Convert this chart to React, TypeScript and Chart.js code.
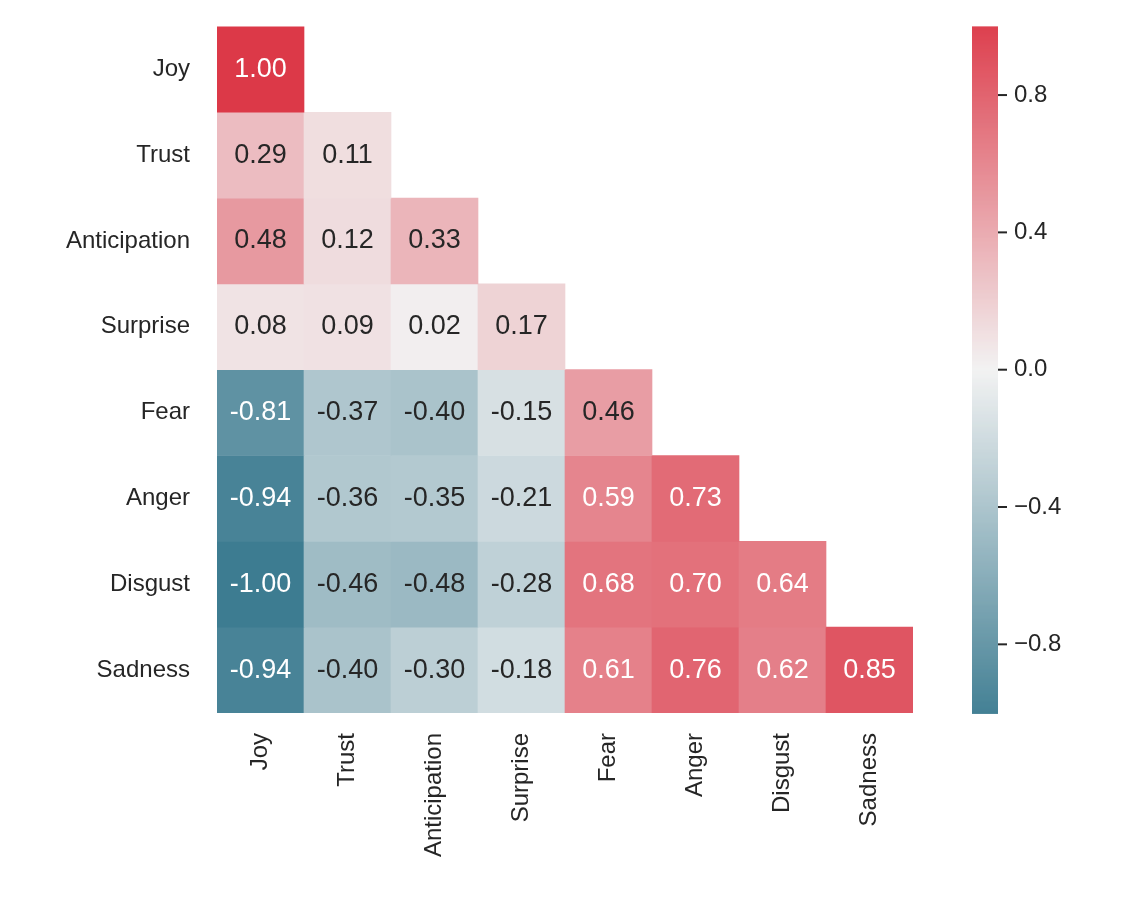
import { useEffect, useRef } from "react";
import { Chart, registerables } from "chart.js";

Chart.register(...registerables);

const emotions = ["Joy", "Trust", "Anticipation", "Surprise", "Fear", "Anger", "Disgust", "Sadness"];
const joyRow = [1.0];
const trustRow = [0.29, 0.11];
const anticipationRow = [0.48, 0.12, 0.33];
const surpriseRow = [0.08, 0.09, 0.02, 0.17];
const fearRow = [-0.81, -0.37, -0.4, -0.15, 0.46];
const angerRow = [-0.94, -0.36, -0.35, -0.21, 0.59, 0.73];
const disgustRow = [-1.0, -0.46, -0.48, -0.28, 0.68, 0.7, 0.64];
const sadnessRow = [-0.94, -0.4, -0.3, -0.18, 0.61, 0.76, 0.62, 0.85];
const rows = [joyRow, trustRow, anticipationRow, surpriseRow, fearRow, angerRow, disgustRow, sadnessRow];
const barTicks = [0.8, 0.4, 0, -0.4, -0.8];

const FONT = "'Liberation Sans', Arial, sans-serif";
const LOW = [61, 124, 145];
const MID = [242, 242, 242];
const HIGH = [220, 57, 72];

function rgbFor(v: number) {
  const t = Math.max(-1, Math.min(1, v));
  const end = t < 0 ? LOW : HIGH;
  const a = Math.abs(t);
  return MID.map((m, i) => Math.round(m + (end[i] - m) * a));
}
const colorFor = (v: number) => `rgb(${rgbFor(v).join(",")})`;
function textColorFor(v: number) {
  const lum = rgbFor(v)
    .map((c) => {
      const s = c / 255;
      return s <= 0.03928 ? s / 12.92 : Math.pow((s + 0.055) / 1.055, 2.4);
    })
    .reduce((acc, c, i) => acc + c * [0.2126, 0.7152, 0.0722][i], 0);
  return lum > 0.408 ? "#262626" : "#ffffff";
}

const cellText = {
  id: "cellText",
  afterDatasetsDraw(chart: any) {
    const ctx = chart.ctx;
    ctx.save();
    ctx.font = `27px ${FONT}`;
    ctx.textAlign = "center";
    ctx.textBaseline = "middle";
    chart.data.datasets.forEach((ds: any, r: number) => {
      const meta = chart.getDatasetMeta(r);
      meta.data.forEach((bar: any, c: number) => {
        const v = rows[r][c];
        if (v === undefined) return;
        ctx.fillStyle = textColorFor(v);
        ctx.fillText(v.toFixed(2), bar.x, (bar.y + bar.base) / 2);
      });
    });
    ctx.restore();
  },
};

const colorBar = {
  id: "colorBar",
  afterDraw(chart: any) {
    const ctx = chart.ctx;
    const { top, bottom } = chart.chartArea;
    const x0 = 972;
    const w = 26;
    const h = bottom - top;
    for (let i = 0; i < h; i++) {
      const v = 1 - (2 * (i + 0.5)) / h;
      ctx.fillStyle = colorFor(v);
      ctx.fillRect(x0, top + i, w, 1.5);
    }
    ctx.save();
    ctx.strokeStyle = "#262626";
    ctx.fillStyle = "#262626";
    ctx.lineWidth = 2;
    ctx.font = `24px ${FONT}`;
    ctx.textAlign = "left";
    ctx.textBaseline = "middle";
    barTicks.forEach((t) => {
      const y = top + ((1 - t) / 2) * h;
      ctx.beginPath();
      ctx.moveTo(x0 + w, y);
      ctx.lineTo(x0 + w + 9, y);
      ctx.stroke();
      const label = t === 0 ? "0.0" : t < 0 ? "\u2212" + Math.abs(t).toFixed(1) : t.toFixed(1);
      ctx.fillText(label, x0 + w + 16, y);
    });
    ctx.restore();
  },
};

export default function App() {
  const canvasRef = useRef<HTMLCanvasElement>(null);

  useEffect(() => {
    document.body.style.margin = "0";
    if (!canvasRef.current) return;
    const chart = new Chart(canvasRef.current, {
      type: "bar",
      data: {
        labels: emotions,
        datasets: rows.map((row, r) => ({
          label: emotions[r],
          data: emotions.map((_, c) => (c < row.length ? [r, r + 1] : null)) as any,
          backgroundColor: emotions.map((_, c) => (c < row.length ? colorFor(row[c]) : "transparent")),
          borderWidth: 0,
          barPercentage: 1,
          categoryPercentage: 1,
          grouped: false,
        })),
      },
      options: {
        responsive: false,
        animation: false,
        layout: { padding: { top: 17, right: 215, left: 0, bottom: 0 } },
        plugins: { legend: { display: false }, tooltip: { enabled: false } },
        scales: {
          x: {
            grid: { display: false },
            border: { display: false },
            ticks: {
              color: "#262626",
              font: { family: FONT, size: 24 },
              minRotation: 90,
              maxRotation: 90,
              padding: 12,
            },
            afterFit: (s: any) => {
              s.height = 201;
            },
          },
          y: {
            type: "linear",
            min: 0,
            max: 8,
            reverse: true,
            grid: { display: false },
            border: { display: false },
            ticks: {
              stepSize: 1,
              color: "#262626",
              font: { family: FONT, size: 24 },
              padding: 12,
              callback: (v: any) => "",
            },
            afterFit: (s: any) => {
              s.width = 217;
            },
          },
        },
      },
      plugins: [
        cellText,
        colorBar,
        {
          id: "rowLabels",
          afterDraw(c: any) {
            const ctx = c.ctx;
            const y = c.scales.y;
            ctx.save();
            ctx.fillStyle = "#262626";
            ctx.font = `24px ${FONT}`;
            ctx.textAlign = "right";
            ctx.textBaseline = "middle";
            emotions.forEach((e, i) => ctx.fillText(e, c.chartArea.left - 27, y.getPixelForValue(i + 0.5)));
            ctx.restore();
          },
        },
      ],
    });
    return () => chart.destroy();
  }, []);

  return <canvas ref={canvasRef} width={1128} height={914} />;
}
